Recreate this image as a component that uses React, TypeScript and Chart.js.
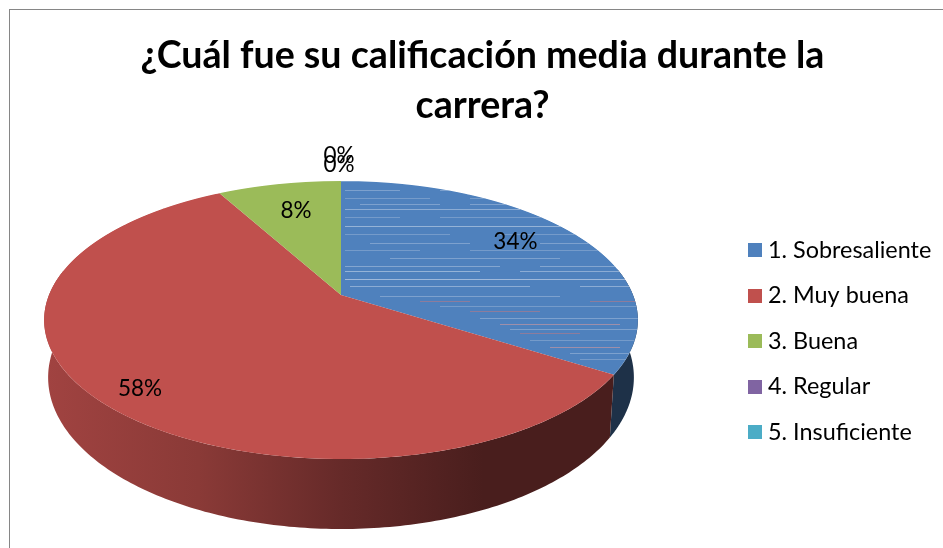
import React, { useEffect, useRef } from "react";
import { Chart, registerables } from "chart.js";

Chart.register(...registerables);

const titleLines = ["¿Cuál fue su calificación media durante la", "carrera?"];
const categories = ["1. Sobresaliente", "2. Muy buena", "3. Buena", "4. Regular", "5. Insuficiente"];
const shares = [34, 58, 8, 0, 0];
const colors = ["#4F81BD", "#C0504D", "#9BBB59", "#8064A2", "#4BACC6"];

const FONT = "Lato, Carlito, Calibri, sans-serif";

// perspective of the tilted pie
const CX = 341, R = 292, K = -0.18, A = 81.4, B = 295;
function project(u: number, v: number) {
  const d = 1 + K * v;
  return { x: CX + (R * u) / d, y: (B + A * v) / d };
}
function lower(p: { x: number; y: number }) {
  const t = 0.01474 + (p.y - 377) * 2.39e-5;
  return { x: p.x + t * (CX - p.x), y: p.y + t * (4650 - p.y) };
}
function shade(hex: string, f: number) {
  const n = parseInt(hex.slice(1), 16);
  const c = [(n >> 16) & 255, (n >> 8) & 255, n & 255].map((q) => Math.round(q * f));
  return `rgb(${c[0]},${c[1]},${c[2]})`;
}
function swatch(color: string) {
  const c = document.createElement("canvas");
  c.width = 14;
  c.height = 14;
  const g = c.getContext("2d")!;
  g.fillStyle = color;
  g.fillRect(0, 0, 14, 14);
  return c;
}

// faint scan-line streaks on the first slice: [y, x0, x1, colour]
const streaks: [number, number, number, string][] = [
  [190, 345, 400, "#9db8d8"], [190, 440, 480, "#9db8d8"], [198, 345, 430, "#8fadd2"], [198, 470, 500, "#8fadd2"],
  [204, 360, 440, "#9db8d8"], [204, 470, 540, "#9db8d8"], [209, 345, 520, "#b5c9e2"], [217, 345, 400, "#8fadd2"],
  [217, 440, 560, "#8fadd2"], [226, 345, 600, "#c5d5e8"], [234, 345, 450, "#8fadd2"], [234, 500, 590, "#8fadd2"],
  [243, 370, 470, "#9db8d8"], [243, 540, 600, "#9db8d8"], [250, 345, 420, "#8fadd2"], [250, 470, 620, "#8fadd2"],
  [258, 390, 560, "#9db8d8"], [266, 345, 500, "#a9c0dc"], [266, 540, 630, "#a9c0dc"], [271, 345, 480, "#c5d5e8"],
  [271, 520, 620, "#b5c9e2"], [279, 345, 640, "#d5e0ee"], [286, 350, 530, "#b5c9e2"], [286, 580, 640, "#b5c9e2"],
  [296, 380, 560, "#9db8d8"], [301, 420, 470, "#b87a85"], [301, 590, 640, "#b87a85"], [306, 440, 640, "#8fadd2"],
  [311, 470, 540, "#b87a85"], [318, 480, 640, "#9db8d8"], [324, 500, 620, "#d39a9c"], [329, 510, 640, "#9db8d8"],
  [333, 520, 580, "#b87a85"], [340, 530, 640, "#8fadd2"], [347, 550, 620, "#d39a9c"], [353, 570, 640, "#9db8d8"],
  [359, 580, 640, "#8fadd2"],
];

// label placement: radial fraction and a small pixel nudge per slice
const labelRadius = [0.8, 0.8, 0.8, 1.22, 1.22];
const labelNudge = [[-17, -5], [-12, 12], [6, 7], [-2, -5], [-2, 4]];

const piePlugin = {
  id: "tiltedPie",
  afterLayout(chart: any) {
    const lg = chart.legend;
    const pad = lg.options.labels.padding;
    const h = lg.bottom - lg.top;
    const w = lg.right - lg.left;
    lg.left = 753.7 - pad;
    lg.right = lg.left + w;
    lg.top = 341 - h / 2;
    lg.bottom = lg.top + h;
  },
  beforeDraw(chart: any) {
    const { ctx } = chart;
    ctx.save();
    ctx.fillStyle = "#ffffff";
    ctx.fillRect(0, 0, chart.width, chart.height);
    ctx.fillStyle = "#868686";
    ctx.fillRect(9, 9, chart.width - 9, 1);
    ctx.fillRect(9, 9, 1, chart.height - 9);
    ctx.restore();
  },
  beforeDatasetsDraw(chart: any) {
    const { ctx } = chart;
    const arcs = chart.getDatasetMeta(0).data;
    // side wall
    arcs.forEach((el: any, i: number) => {
      if (el.endAngle - el.startAngle <= 0) return;
      const top: { x: number; y: number }[] = [];
      const steps = 240;
      for (let s = 0; s <= steps; s++) {
        const a = el.startAngle + ((el.endAngle - el.startAngle) * s) / steps;
        const v = Math.sin(a);
        if (v >= -0.2) top.push(project(Math.cos(a), v));
      }
      if (!top.length) return;
      const g = ctx.createLinearGradient(44, 0, 638, 0);
      const stops = [[0, 0.84], [0.26, 0.72], [0.5, 0.53], [0.74, 0.38], [1, 0.38]];
      stops.forEach(([p, f]) => g.addColorStop(p, shade(colors[i], f)));
      ctx.save();
      ctx.beginPath();
      top.forEach((p, n) => (n ? ctx.lineTo(p.x, p.y) : ctx.moveTo(p.x, p.y)));
      top.slice().reverse().forEach((p) => {
        const q = lower(p);
        ctx.lineTo(q.x, q.y);
      });
      ctx.closePath();
      ctx.fillStyle = g;
      ctx.fill();
      ctx.restore();
    });
    // top face: the library's arcs, drawn row by row through the perspective
    const first = arcs[0];
    const r = first.outerRadius;
    for (let y = 178; y <= 462; y++) {
      const ym = y + 0.5;
      const v = (ym - B) / (A - K * ym);
      if (Math.abs(v) > 1.02) continue;
      const d = 1 + K * v;
      const s = R / r / d;
      const dv = (A - K * ym) / d; // screen px per unit of v
      const m = dv / r;
      ctx.save();
      ctx.beginPath();
      ctx.rect(0, y, chart.width, 1);
      ctx.clip();
      ctx.setTransform(s, 0, 0, m, CX - s * first.x, ym - m * (first.y + v * r));
      arcs.forEach((el: any) => el.draw(ctx));
      ctx.restore();
    }
    // streaks clipped to the first slice
    ctx.save();
    ctx.beginPath();
    ctx.moveTo(CX, B);
    for (let s = 0; s <= 120; s++) {
      const a = first.startAngle + ((first.endAngle - first.startAngle) * s) / 120;
      const p = project(Math.cos(a), Math.sin(a));
      ctx.lineTo(p.x, p.y);
    }
    ctx.closePath();
    ctx.clip();
    streaks.forEach(([y, x0, x1, c]) => {
      ctx.fillStyle = c;
      ctx.globalAlpha = 0.6;
      ctx.fillRect(x0, y, x1 - x0, 1);
    });
    ctx.restore();
    // percentage labels
    ctx.save();
    ctx.fillStyle = "#000000";
    ctx.font = `22.5px ${FONT}`;
    ctx.textAlign = "center";
    ctx.textBaseline = "middle";
    arcs.forEach((el: any, i: number) => {
      const a = (el.startAngle + el.endAngle) / 2;
      const f = labelRadius[i];
      const p = project(Math.cos(a) * f, Math.sin(a) * f);
      ctx.fillText(`${shares[i]}%`, p.x + labelNudge[i][0], p.y + labelNudge[i][1]);
    });
    ctx.restore();
    return false;
  },
};

export default function App() {
  const ref = useRef<HTMLCanvasElement>(null);
  useEffect(() => {
    const chart = new Chart(ref.current!, {
      type: "pie",
      data: {
        labels: categories,
        datasets: [{ data: shares, backgroundColor: colors, borderWidth: 0 }],
      },
      options: {
        responsive: false,
        animation: false,
        layout: { padding: { left: 22, top: 31, right: 0, bottom: 0 } },
        plugins: {
          tooltip: { enabled: false },
          title: {
            display: true,
            text: titleLines,
            color: "#000000",
            font: { family: FONT, size: 37.6, weight: "bold", lineHeight: 1.33 },
            padding: { top: 0, bottom: 10 },
          },
          legend: {
            position: "right",
            labels: {
              color: "#000000",
              font: { family: FONT, size: 23.4 },
              usePointStyle: true,
              pointStyleWidth: 2.6,
              padding: 22.1,
              generateLabels: () =>
                categories.map((text, i) => ({
                  text,
                  pointStyle: swatch(colors[i]),
                  fillStyle: colors[i],
                  strokeStyle: colors[i],
                  lineWidth: 0,
                  hidden: false,
                  index: i,
                })),
            },
          },
        },
      } as any,
      plugins: [piePlugin as any],
    });
    return () => chart.destroy();
  }, []);
  return (
    <div style={{ position: "fixed", left: 0, top: 0, width: 943, height: 548, background: "#fff" }}>
      <canvas ref={ref} width={943} height={548} style={{ display: "block" }} />
    </div>
  );
}
